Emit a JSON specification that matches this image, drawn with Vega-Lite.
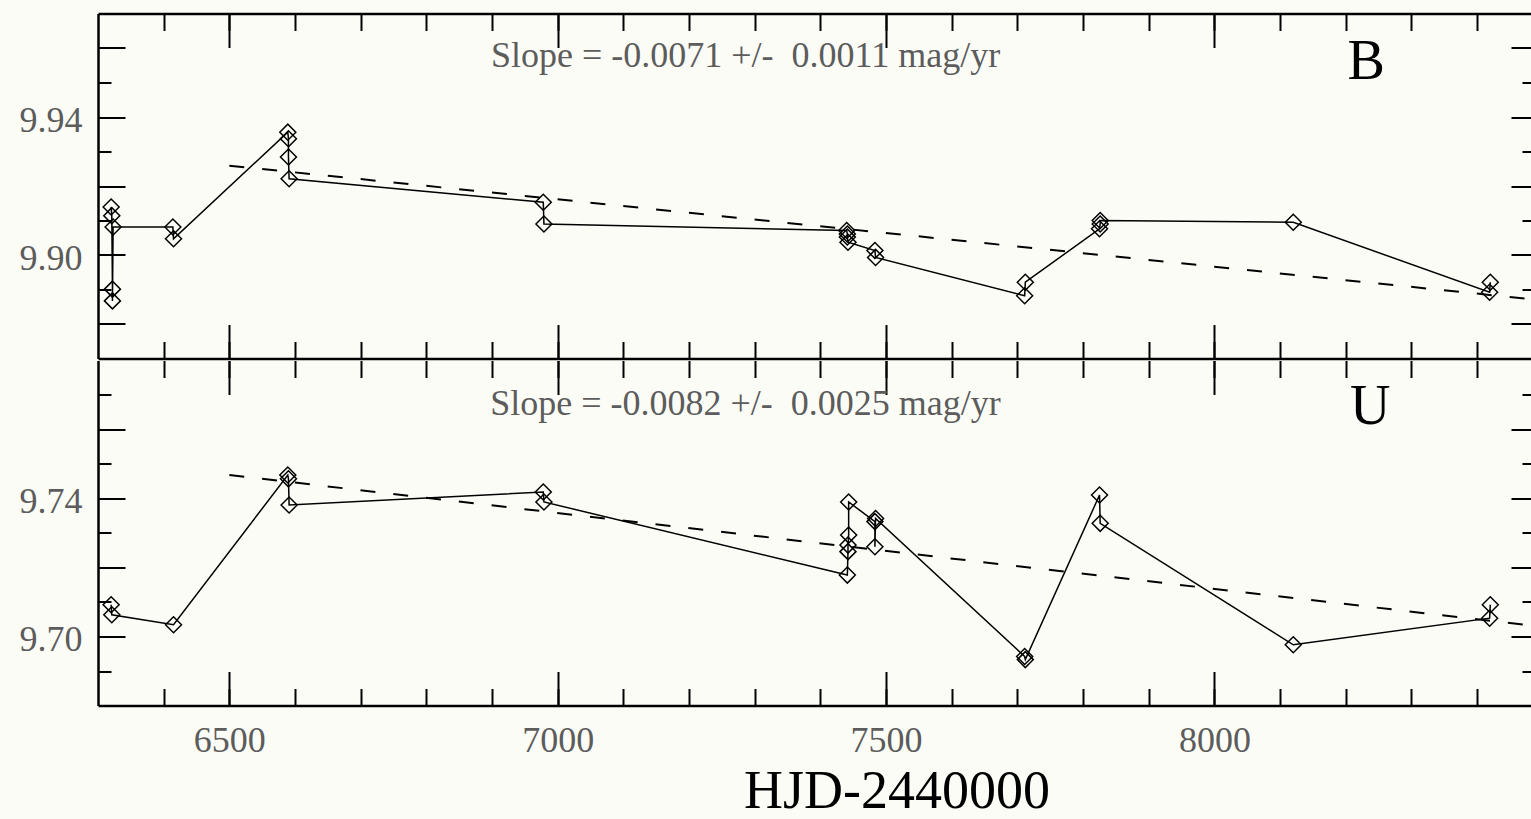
{
  "$schema": "https://vega.github.io/schema/vega-lite/v6.json",
  "background": "#fcfcf7",
  "padding": {"left": 0, "right": -2, "top": 12.5, "bottom": 2},
  "spacing": 0,
  "config": {
    "view": {"stroke": null},
    "axis": {"grid": false, "tickColor": "black", "domainColor": "black", "tickWidth": 2, "domainWidth": 2.5, "labelFont": "Liberation Serif", "titleFont": "Liberation Serif", "labelOverlap": false, "labelFlush": false, "offset": 0}
  },
  "datasets": {
    "obs": [
      {"band": "B", "seq": 1, "t": 6320, "mag": 9.9139},
      {"band": "B", "seq": 2, "t": 6321, "mag": 9.9114},
      {"band": "B", "seq": 3, "t": 6322, "mag": 9.8901},
      {"band": "B", "seq": 4, "t": 6322, "mag": 9.8867},
      {"band": "B", "seq": 5, "t": 6323, "mag": 9.9081},
      {"band": "B", "seq": 6, "t": 6414, "mag": 9.9081},
      {"band": "B", "seq": 7, "t": 6415, "mag": 9.9047},
      {"band": "B", "seq": 8, "t": 6589, "mag": 9.9356},
      {"band": "B", "seq": 9, "t": 6590, "mag": 9.9337},
      {"band": "B", "seq": 10, "t": 6590, "mag": 9.9284},
      {"band": "B", "seq": 11, "t": 6591, "mag": 9.9221},
      {"band": "B", "seq": 12, "t": 6978, "mag": 9.9153},
      {"band": "B", "seq": 13, "t": 6979, "mag": 9.909},
      {"band": "B", "seq": 14, "t": 7440, "mag": 9.9071},
      {"band": "B", "seq": 15, "t": 7441, "mag": 9.9061},
      {"band": "B", "seq": 16, "t": 7441, "mag": 9.9052},
      {"band": "B", "seq": 17, "t": 7442, "mag": 9.9037},
      {"band": "B", "seq": 18, "t": 7483, "mag": 9.9013},
      {"band": "B", "seq": 19, "t": 7484, "mag": 9.8993},
      {"band": "B", "seq": 20, "t": 7711, "mag": 9.8882},
      {"band": "B", "seq": 21, "t": 7712, "mag": 9.8921},
      {"band": "B", "seq": 22, "t": 7825, "mag": 9.9076},
      {"band": "B", "seq": 23, "t": 7826, "mag": 9.909},
      {"band": "B", "seq": 24, "t": 7826, "mag": 9.91},
      {"band": "B", "seq": 25, "t": 8120, "mag": 9.9095},
      {"band": "B", "seq": 26, "t": 8419, "mag": 9.8892},
      {"band": "B", "seq": 27, "t": 8420, "mag": 9.8921},
      {"band": "U", "seq": 1, "t": 6320, "mag": 9.7092},
      {"band": "U", "seq": 2, "t": 6321, "mag": 9.7063},
      {"band": "U", "seq": 3, "t": 6415, "mag": 9.7034},
      {"band": "U", "seq": 4, "t": 6589, "mag": 9.7468},
      {"band": "U", "seq": 5, "t": 6590, "mag": 9.7457},
      {"band": "U", "seq": 6, "t": 6591, "mag": 9.7381},
      {"band": "U", "seq": 7, "t": 6978, "mag": 9.7419},
      {"band": "U", "seq": 8, "t": 6979, "mag": 9.739},
      {"band": "U", "seq": 9, "t": 7441, "mag": 9.7178},
      {"band": "U", "seq": 10, "t": 7442, "mag": 9.7246},
      {"band": "U", "seq": 11, "t": 7442, "mag": 9.7265},
      {"band": "U", "seq": 12, "t": 7443, "mag": 9.7294},
      {"band": "U", "seq": 13, "t": 7443, "mag": 9.739},
      {"band": "U", "seq": 14, "t": 7483, "mag": 9.7333},
      {"band": "U", "seq": 15, "t": 7483, "mag": 9.726},
      {"band": "U", "seq": 16, "t": 7484, "mag": 9.7342},
      {"band": "U", "seq": 17, "t": 7711, "mag": 9.6942},
      {"band": "U", "seq": 18, "t": 7712, "mag": 9.6933},
      {"band": "U", "seq": 19, "t": 7825, "mag": 9.741},
      {"band": "U", "seq": 20, "t": 7826, "mag": 9.7328},
      {"band": "U", "seq": 21, "t": 8120, "mag": 9.6976},
      {"band": "U", "seq": 22, "t": 8419, "mag": 9.7053},
      {"band": "U", "seq": 23, "t": 8420, "mag": 9.7092}
    ],
    "trend": [
      {"band": "B", "t": 6500, "mag": 9.9259},
      {"band": "B", "t": 8482, "mag": 9.8872},
      {"band": "U", "t": 6500, "mag": 9.7468},
      {"band": "U", "t": 8482, "mag": 9.7032}
    ],
    "slopes": [
      {"band": "B", "t": 7286, "mag": 9.9545, "text": "Slope = -0.0071 +/- \u00a00.0011 mag/yr"},
      {"band": "U", "t": 7286, "mag": 9.7642, "text": "Slope = -0.0082 +/- \u00a00.0025 mag/yr"}
    ],
    "names": [
      {"band": "B", "t": 8231, "mag": 9.9511, "text": "B"},
      {"band": "U", "t": 8237, "mag": 9.7615, "text": "U"}
    ]
  },
  "vconcat": [
    {
      "width": 1433,
      "height": 345,
      "resolve": {"axis": {"x": "independent", "y": "independent"}},
      "layer": [
        {
          "data": {"name": "obs"},
          "transform": [{"filter": "datum.band == 'B'"}],
          "mark": {"type": "line", "color": "black", "strokeWidth": 1.5},
          "encoding": {
            "x": {"field": "t", "type": "quantitative", "scale": {"domain": [6300, 8482], "nice": false, "zero": false},
              "axis": {"orient": "bottom", "values": [6500, 7000, 7500, 8000], "tickSize": -34, "labels": false, "domain": true, "title": null, "minExtent": 0, "maxExtent": 0}},
            "y": {"field": "mag", "type": "quantitative", "scale": {"domain": [9.87, 9.97], "nice": false, "zero": false},
              "axis": {"orient": "left", "values": [9.9, 9.94], "ticks": false, "format": ".2f", "labelFontSize": 36, "labelColor": "#5c5c5c", "labelPadding": 16, "labelOffset": 3, "domain": true, "title": null, "minExtent": 98, "maxExtent": 98}},
            "order": {"field": "seq"}
          }
        },
        {
          "data": {"name": "obs"},
          "transform": [{"filter": "datum.band == 'B'"}],
          "mark": {"type": "point", "shape": "diamond", "filled": false, "stroke": "black", "strokeWidth": 1.5, "size": 256, "opacity": 1},
          "encoding": {
            "x": {"field": "t", "type": "quantitative",
              "axis": {"orient": "top", "values": [6500, 7000, 7500, 8000], "tickSize": -34, "labels": false, "domain": true, "title": null, "minExtent": 0, "maxExtent": 0}},
            "y": {"field": "mag", "type": "quantitative",
              "axis": {"orient": "left", "values": [9.88, 9.9, 9.92, 9.94, 9.96], "tickSize": -27, "labels": false, "domain": false, "title": null, "minExtent": 0, "maxExtent": 0}}
          }
        },
        {
          "data": {"name": "trend"},
          "transform": [{"filter": "datum.band == 'B'"}],
          "mark": {"type": "line", "color": "black", "strokeWidth": 2, "strokeDash": [15, 18]},
          "encoding": {
            "x": {"field": "t", "type": "quantitative",
              "axis": {"orient": "bottom", "values": [6400, 6500, 6600, 6700, 6800, 6900, 7000, 7100, 7200, 7300, 7400, 7500, 7600, 7700, 7800, 7900, 8000, 8100, 8200, 8300, 8400], "tickSize": -17, "labels": false, "domain": false, "title": null, "minExtent": 0, "maxExtent": 0}},
            "y": {"field": "mag", "type": "quantitative",
              "axis": {"orient": "left", "values": [9.88, 9.89, 9.9, 9.91, 9.92, 9.93, 9.94, 9.95, 9.96], "tickSize": -13, "labels": false, "domain": false, "title": null, "minExtent": 0, "maxExtent": 0}}
          }
        },
        {
          "data": {"name": "slopes"},
          "transform": [{"filter": "datum.band == 'B'"}],
          "mark": {"type": "text", "font": "Liberation Serif", "fontSize": 36, "color": "#5c5c5c", "align": "center", "baseline": "alphabetic"},
          "encoding": {
            "x": {"field": "t", "type": "quantitative",
              "axis": {"orient": "top", "values": [6400, 6500, 6600, 6700, 6800, 6900, 7000, 7100, 7200, 7300, 7400, 7500, 7600, 7700, 7800, 7900, 8000, 8100, 8200, 8300, 8400], "tickSize": -17, "labels": false, "domain": false, "title": null, "minExtent": 0, "maxExtent": 0}},
            "y": {"field": "mag", "type": "quantitative",
              "axis": {"orient": "right", "values": [9.88, 9.9, 9.92, 9.94, 9.96], "tickSize": -20, "labels": false, "domain": false, "title": null, "minExtent": 0, "maxExtent": 0}},
            "text": {"field": "text"}
          }
        },
        {
          "data": {"name": "names"},
          "transform": [{"filter": "datum.band == 'B'"}],
          "mark": {"type": "text", "font": "Liberation Serif", "fontSize": 56, "color": "black", "align": "center", "baseline": "alphabetic"},
          "encoding": {
            "x": {"field": "t", "type": "quantitative", "axis": null},
            "y": {"field": "mag", "type": "quantitative",
              "axis": {"orient": "right", "values": [9.88, 9.89, 9.9, 9.91, 9.92, 9.93, 9.94, 9.95, 9.96], "tickSize": -9, "labels": false, "domain": false, "title": null, "minExtent": 0, "maxExtent": 0}},
            "text": {"field": "text"}
          }
        }
      ]
    },
    {
      "width": 1433,
      "height": 345,
      "resolve": {"axis": {"x": "independent", "y": "independent"}},
      "layer": [
        {
          "data": {"name": "obs"},
          "transform": [{"filter": "datum.band == 'U'"}],
          "mark": {"type": "line", "color": "black", "strokeWidth": 1.5},
          "encoding": {
            "x": {"field": "t", "type": "quantitative", "scale": {"domain": [6300, 8482], "nice": false, "zero": false},
              "axis": {"orient": "bottom", "values": [6500, 7000, 7500, 8000], "ticks": false, "format": "d", "labelFontSize": 36, "labelColor": "#5c5c5c", "labelPadding": 18, "domain": true, "title": "HJD-2440000", "titleFontSize": 54, "titleFontWeight": "normal", "titleColor": "black", "titleX": 798.5, "titleY": 102, "titleBaseline": "alphabetic", "titleAlign": "center"}},
            "y": {"field": "mag", "type": "quantitative", "scale": {"domain": [9.68, 9.78], "nice": false, "zero": false},
              "axis": {"orient": "left", "values": [9.7, 9.74], "ticks": false, "format": ".2f", "labelFontSize": 36, "labelColor": "#5c5c5c", "labelPadding": 16, "labelOffset": 3, "domain": true, "title": null, "minExtent": 98, "maxExtent": 98}},
            "order": {"field": "seq"}
          }
        },
        {
          "data": {"name": "obs"},
          "transform": [{"filter": "datum.band == 'U'"}],
          "mark": {"type": "point", "shape": "diamond", "filled": false, "stroke": "black", "strokeWidth": 1.5, "size": 256, "opacity": 1},
          "encoding": {
            "x": {"field": "t", "type": "quantitative",
              "axis": {"orient": "top", "values": [6500, 7000, 7500, 8000], "tickSize": -34, "labels": false, "domain": false, "title": null, "minExtent": 0, "maxExtent": 0}},
            "y": {"field": "mag", "type": "quantitative",
              "axis": {"orient": "left", "values": [9.7, 9.72, 9.74, 9.76], "tickSize": -27, "labels": false, "domain": false, "title": null, "minExtent": 0, "maxExtent": 0}}
          }
        },
        {
          "data": {"name": "trend"},
          "transform": [{"filter": "datum.band == 'U'"}],
          "mark": {"type": "line", "color": "black", "strokeWidth": 2, "strokeDash": [15, 18]},
          "encoding": {
            "x": {"field": "t", "type": "quantitative",
              "axis": {"orient": "bottom", "values": [6400, 6500, 6600, 6700, 6800, 6900, 7000, 7100, 7200, 7300, 7400, 7500, 7600, 7700, 7800, 7900, 8000, 8100, 8200, 8300, 8400], "tickSize": -17, "labels": false, "domain": false, "title": null, "minExtent": 0, "maxExtent": 0}},
            "y": {"field": "mag", "type": "quantitative",
              "axis": {"orient": "left", "values": [9.69, 9.7, 9.71, 9.72, 9.73, 9.74, 9.75, 9.76, 9.77], "tickSize": -13, "labels": false, "domain": false, "title": null, "minExtent": 0, "maxExtent": 0}}
          }
        },
        {
          "data": {"name": "slopes"},
          "transform": [{"filter": "datum.band == 'U'"}],
          "mark": {"type": "text", "font": "Liberation Serif", "fontSize": 36, "color": "#5c5c5c", "align": "center", "baseline": "alphabetic"},
          "encoding": {
            "x": {"field": "t", "type": "quantitative",
              "axis": {"orient": "top", "values": [6400, 6500, 6600, 6700, 6800, 6900, 7000, 7100, 7200, 7300, 7400, 7500, 7600, 7700, 7800, 7900, 8000, 8100, 8200, 8300, 8400], "tickSize": -17, "labels": false, "domain": false, "title": null, "minExtent": 0, "maxExtent": 0}},
            "y": {"field": "mag", "type": "quantitative",
              "axis": {"orient": "right", "values": [9.7, 9.72, 9.74, 9.76], "tickSize": -20, "labels": false, "domain": false, "title": null, "minExtent": 0, "maxExtent": 0}},
            "text": {"field": "text"}
          }
        },
        {
          "data": {"name": "names"},
          "transform": [{"filter": "datum.band == 'U'"}],
          "mark": {"type": "text", "font": "Liberation Serif", "fontSize": 56, "color": "black", "align": "center", "baseline": "alphabetic"},
          "encoding": {
            "x": {"field": "t", "type": "quantitative",
              "axis": {"orient": "bottom", "values": [6500, 7000, 7500, 8000], "tickSize": -34, "labels": false, "domain": false, "title": null, "minExtent": 0, "maxExtent": 0}},
            "y": {"field": "mag", "type": "quantitative",
              "axis": {"orient": "right", "values": [9.69, 9.7, 9.71, 9.72, 9.73, 9.74, 9.75, 9.76, 9.77], "tickSize": -9, "labels": false, "domain": false, "title": null, "minExtent": 0, "maxExtent": 0}},
            "text": {"field": "text"}
          }
        }
      ]
    }
  ]
}
